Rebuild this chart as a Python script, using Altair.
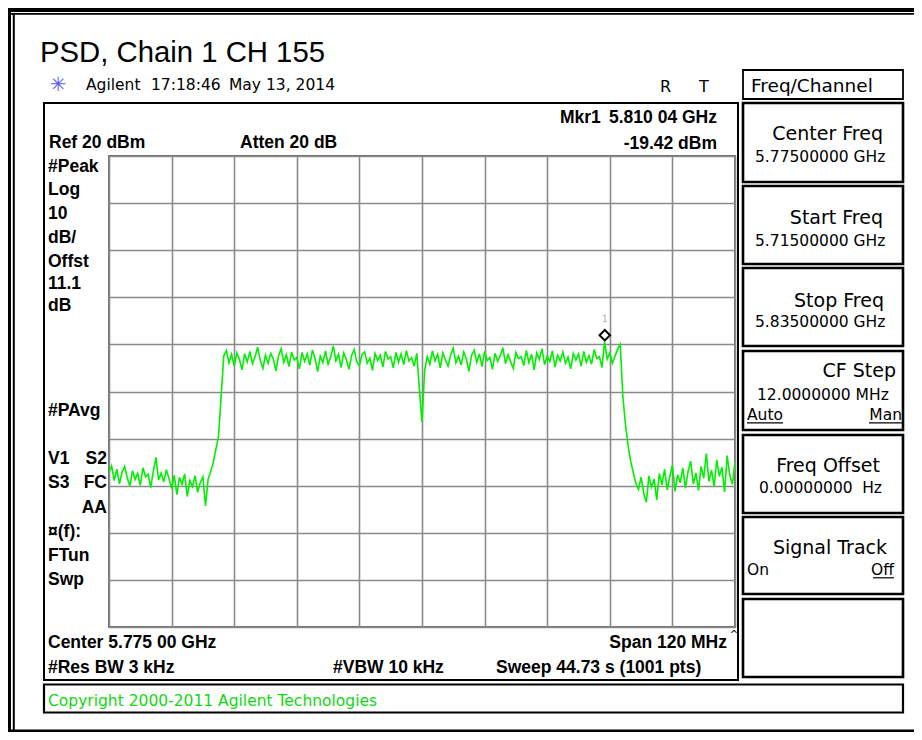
import altair as alt
import pandas as pd

# ---------------- data ----------------
START_MHZ = 5715.0          # Start Freq 5.715 GHz
STOP_MHZ = 5835.0           # Stop Freq 5.835 GHz
STEP_MHZ = 0.5              # spacing of the trace readings

floor_left = [-47.2, -45.8, -48.9, -46.5, -49.6, -47.1, -45.9, -48.3, -50.1, -46.8,
              -48.7, -47.4, -49.9, -46.2, -48.1, -47.6, -50.4, -46.9, -44.0, -48.8,
              -47.3, -49.2, -46.6, -48.5, -50.6, -47.8, -51.9, -48.2, -49.7, -47.5,
              -52.3, -48.9, -50.2, -47.9, -51.4, -49.3, -48.1, -54.3]
edge_rise = [-48.6, -47.0, -45.0, -42.2, -39.5, -31.0, -22.4]
band_low = [-21.3, -23.9, -22.1, -24.6, -21.8, -23.2, -25.4, -22.0, -23.7, -21.5,
            -24.1, -22.6, -20.6, -23.4, -25.1, -22.3, -24.0, -21.9, -23.1, -25.6,
            -22.4, -20.9, -23.8, -22.2, -24.7, -21.6, -23.3, -22.8, -25.2, -21.7,
            -23.6, -22.0, -24.4, -21.2, -23.0, -25.8, -22.5, -23.9, -21.4, -24.2,
            -22.7, -20.3, -23.5, -22.1, -24.9, -21.8, -23.2, -25.3, -22.4, -21.1,
            -23.7, -24.5, -22.2, -21.6, -24.0, -22.9, -25.5, -21.9, -23.4, -22.3,
            -24.8, -21.5, -23.1, -22.6, -25.0, -21.7, -23.8, -22.0, -24.3, -21.3,
            -23.5, -22.8, -24.6, -21.9]
notch = [-29.5, -36.5, -25.5]
band_high = [-22.6, -24.2, -21.4, -23.5, -22.1, -25.0, -21.8, -23.3, -24.6, -22.2,
             -20.8, -23.9, -22.5, -24.4, -21.6, -23.1, -25.7, -22.3, -21.2, -23.8,
             -22.0, -24.7, -21.5, -23.4, -22.8, -25.3, -21.9, -23.6, -22.4, -20.7,
             -24.1, -22.2, -23.7, -25.1, -21.7, -23.0, -22.6, -24.5, -21.3, -23.9,
             -22.1, -25.4, -21.8, -23.2, -20.9, -24.3, -22.5, -23.6, -21.4, -24.8,
             -22.3, -23.5, -21.6, -24.0, -22.7, -25.2, -21.9, -23.3, -22.0, -24.6,
             -21.5, -23.8, -22.4, -24.2, -21.1, -23.0, -22.6, -24.9, -19.4, -23.1,
             -21.8, -24.0, -22.5, -21.0]
edge_fall = [-20.0, -31.0, -37.0, -41.5, -44.8, -47.2, -49.5]
floor_right = [-50.8, -48.2, -51.6, -53.5, -47.9, -50.3, -48.6, -53.0, -47.4, -49.8,
               -46.5, -50.9, -48.1, -45.6, -51.2, -47.7, -49.4, -46.2, -50.5, -47.0,
               -44.8, -49.6, -47.3, -51.0, -45.9, -48.4, -43.2, -49.1, -46.7, -50.2,
               -44.5, -48.0, -46.1, -51.3, -43.6, -47.8, -49.7, -44.9]

level_dbm = floor_left + edge_rise + band_low + notch + band_high + edge_fall + floor_right
freq_mhz = [START_MHZ + STEP_MHZ * i for i in range(len(level_dbm))]

marker_freq = [5810.04]
marker_level = [-19.42]

x_grid = [5715, 5727, 5739, 5751, 5763, 5775, 5787, 5799, 5811, 5823, 5835]
y_grid = [20, 10, 0, -10, -20, -30, -40, -50, -60, -70, -80]

# ---------------- layout / style ----------------
OX, OY = 109, 156            # page position of the graticule's top-left corner
GREEN = "#00f000"
GRID = "#8a8a8a"
SCREEN = "DejaVu Sans"
BOLD = "Liberation Sans"
DOC = "Liberation Sans"

one = pd.DataFrame({"k": [0]})


def X(p):
    return p - OX


def Y(p):
    return p - OY


def text(s, x, y, size, font=SCREEN, weight="normal", align="left", color="black"):
    return alt.Chart(one).mark_text(
        text=s, font=font, fontSize=size, fontWeight=weight, align=align,
        baseline="alphabetic", color=color
    ).encode(x=alt.value(X(x)), y=alt.value(Y(y)))


def box(x1, y1, x2, y2, sw=2.0, color="black"):
    return alt.Chart(one).mark_rect(
        fillOpacity=0, stroke=color, strokeWidth=sw
    ).encode(x=alt.value(X(x1)), x2=alt.value(X(x2)), y=alt.value(Y(y1)), y2=alt.value(Y(y2)))


def band(x1, y1, x2, y2, color="black"):
    return alt.Chart(one).mark_rect(fill=color).encode(
        x=alt.value(X(x1)), x2=alt.value(X(x2)), y=alt.value(Y(y1)), y2=alt.value(Y(y2)))


def hline(x1, x2, y, sw=1.2, color="black"):
    return alt.Chart(one).mark_rule(color=color, strokeWidth=sw).encode(
        x=alt.value(X(x1)), x2=alt.value(X(x2)), y=alt.value(Y(y)))


axis_common = dict(grid=True, labels=False, ticks=False, domain=False, title=None,
                   gridColor=GRID, gridWidth=1.6, gridOpacity=1)

trace = alt.Chart(pd.DataFrame({"f": freq_mhz, "p": level_dbm})).mark_line(
    color=GREEN, strokeWidth=1.6, clip=True
).encode(
    x=alt.X("f:Q", scale=alt.Scale(domain=[START_MHZ, STOP_MHZ], nice=False, zero=False),
            axis=alt.Axis(values=x_grid, **axis_common)),
    y=alt.Y("p:Q", scale=alt.Scale(domain=[-80, 20], nice=False, zero=False),
            axis=alt.Axis(values=y_grid, **axis_common)),
)

mk = alt.Chart(pd.DataFrame({"f": marker_freq, "p": marker_level}))
mk_pt = mk.mark_point(shape="diamond", size=110, filled=True, fill="white", stroke="black",
                      strokeWidth=2, opacity=1, yOffset=-6.5).encode(x="f:Q", y="p:Q")
mk_lbl = mk.mark_text(text="1", font=SCREEN, fontSize=9, color="#b0b0b0",
                      dy=-23).encode(x="f:Q", y="p:Q")

layers = [trace, mk_pt, mk_lbl]

# outer document border
layers += [
    band(0, 6, 930, 12), band(0, 13, 930, 14.7),
    band(7, 6, 11, 740), band(12.8, 13, 14.8, 740),
    band(0, 729.5, 930, 732),
]

# title and header
layers += [
    text("PSD, Chain 1 CH 155", 40, 62, 29.3, font=DOC),
    text("\u2733", 58, 91, 20, font=SCREEN, align="center", color="#5c5cff"),
    text("Agilent", 86, 89.5, 15.5),
    text("17:18:46", 151, 89.5, 15.5),
    text("May 13, 2014", 229, 89.5, 15.5),
    text("R", 660, 91.5, 16),
    text("T", 699, 91.5, 16),
]

# instrument screen frame
layers += [box(44, 103, 738, 680, sw=2)]

bold_labels = [
    ("Ref 20 dBm", 49, 148.3, "left"),
    ("Atten 20 dB", 240, 148.3, "left"),
    ("Mkr1", 560, 123.3, "left"),
    ("5.810 04 GHz", 717, 123.3, "right"),
    ("-19.42 dBm", 717, 149, "right"),
    ("#Peak", 48, 171.5, "left"),
    ("Log", 48, 195.3, "left"),
    ("10", 48, 218.7, "left"),
    ("dB/", 48, 242.7, "left"),
    ("Offst", 48, 267.3, "left"),
    ("11.1", 48, 289.3, "left"),
    ("dB", 48, 310.7, "left"),
    ("#PAvg", 48, 416, "left"),
    ("V1", 48, 464, "left"),
    ("S2", 107, 464, "right"),
    ("S3", 48, 487.7, "left"),
    ("FC", 107, 487.7, "right"),
    ("AA", 107, 512.7, "right"),
    ("\u00a4(f):", 48, 537.3, "left"),
    ("FTun", 48, 560.7, "left"),
    ("Swp", 48, 585, "left"),
    ("Center 5.775 00 GHz", 48, 647.7, "left"),
    ("Span 120 MHz", 727, 647.7, "right"),
    ("#Res BW 3 kHz", 48, 672.7, "left"),
    ("#VBW 10 kHz", 333, 672.7, "left"),
    ("Sweep 44.73 s (1001 pts)", 496, 672.7, "left"),
]
for s, x, y, a in bold_labels:
    layers.append(text(s, x, y, 17.5, font=BOLD, weight="bold", align=a))

layers.append(text("^", 734, 638, 10, align="center"))

# soft-key panel
layers += [box(743, 70, 903, 99, sw=1.8)]
layers.append(text("Freq/Channel", 751, 92, 18.5))
key_rows = [(103, 182), (186, 264), (268, 346), (351, 430), (435, 513), (517, 594), (599, 677)]
for y1, y2 in key_rows:
    layers.append(box(743, y1, 903, y2, sw=2.6))

layers += [
    text("Center Freq", 883, 140, 19, align="right"),
    text("5.77500000 GHz", 755, 161.5, 15.5),
    text("Start Freq", 883, 223.5, 19, align="right"),
    text("5.71500000 GHz", 755, 245.5, 15.5),
    text("Stop Freq", 884, 307, 19, align="right"),
    text("5.83500000 GHz", 755, 327, 15.5),
    text("CF Step", 896, 377, 19, align="right"),
    text("12.0000000 MHz", 757, 399.5, 15.5),
    text("Auto", 747, 420, 15.5),
    hline(747, 783, 422.8),
    text("Man", 902, 420, 15.5, align="right"),
    hline(869, 902, 422.8),
    text("Freq Offset", 880, 471.5, 19, align="right"),
    text("0.00000000", 759, 492.7, 15.5),
    text("Hz", 882, 492.7, 15.5, align="right"),
    text("Signal Track", 887, 553.5, 19, align="right"),
    text("On", 747, 575, 15.5),
    text("Off", 894, 575, 15.5, align="right"),
    hline(873, 894, 577.8),
]

# copyright strip
layers += [
    box(44, 684.5, 903, 712.5, sw=2.2),
    text("Copyright 2000-2011 Agilent Technologies", 48, 706, 15.5, color="#12d812"),
]

chart = alt.layer(*layers).properties(
    width=626,
    height=471,
    padding={"left": 101, "top": 148, "right": 179, "bottom": 105},
    autosize=alt.AutoSizeParams(type="none"),
    background="white",
).configure_view(stroke="#6e6e6e", strokeWidth=2)

chart.save("out.html", embed_options={"renderer": "svg", "actions": False})
